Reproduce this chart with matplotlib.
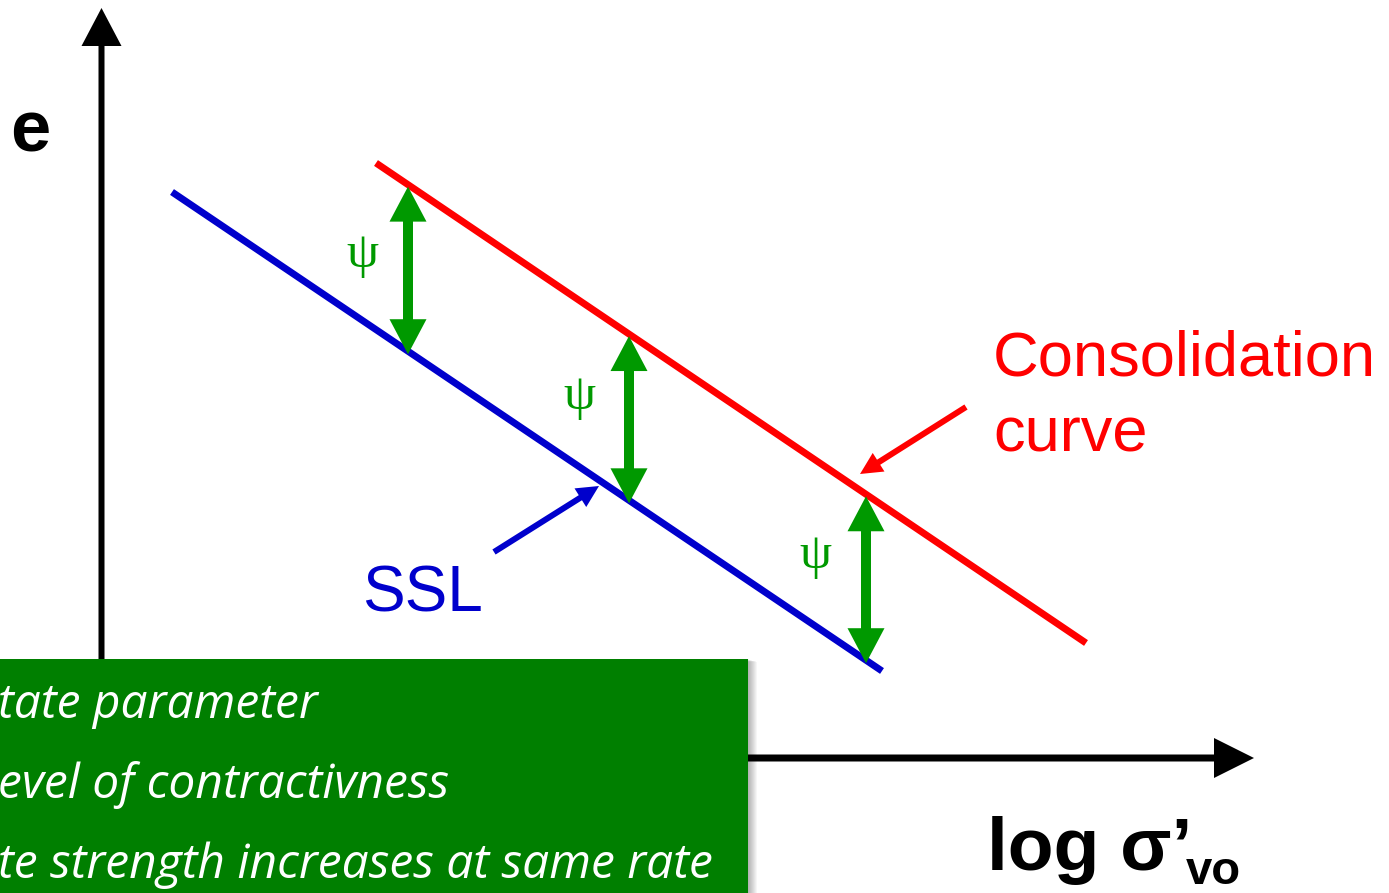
import numpy as np
import matplotlib.pyplot as plt
from matplotlib.patches import Rectangle, FancyArrow

# schematic e - log(sigma'vo) space, drawn in a canvas-like unit system (y grows downward)
W, H = 1389, 893

# steady state line (SSL) and consolidation curve, end points
ssl_x = [172, 882]
ssl_y = [192, 671]
cons_x = [376, 1086]
cons_y = [163, 643]

# where the state parameter psi is shown, and its labels
psi_x = [408, 629, 866]
psi_lab_x = [362, 579, 815]
psi_lab_y = [255, 397, 556]

# text in the green note box
note_lines = ["tate parameter", "evel of contractivness", "te strength increases at same rate"]

GREEN = '#009900'
BLUE = '#0000cc'
RED = '#ff0000'


def line_y(xs, ys, x):
    return np.interp(x, xs, ys)


def arrow(ax, x0, y0, x1, y1, color, width, hw, hl, z=4):
    ax.add_patch(FancyArrow(x0, y0, x1 - x0, y1 - y0, width=width, head_width=hw,
                            head_length=hl, length_includes_head=True, color=color,
                            lw=0, zorder=z))


fig = plt.figure(figsize=(W / 100, H / 100), dpi=100)
ax = fig.add_axes([0, 0, 1, 1])
ax.set_xlim(0, W)
ax.set_ylim(H, 0)
ax.axis('off')

# axes with arrow heads
arrow(ax, 101.5, 758, 101.5, 8, 'black', 6, 40, 38, z=2)
arrow(ax, 98, 758, 1254, 758, 'black', 7, 40, 40, z=2)

ax.text(10, 132, "e", fontsize=52, fontweight='bold', family='Liberation Sans',
        va='center', ha='left')
ax.text(987, 870, "log \u03c3\u2019", fontsize=54, fontweight='bold', family='Liberation Sans',
        va='baseline', ha='left')
ax.text(1186, 884, "vo", fontsize=34, fontweight='bold', family='Liberation Sans',
        va='baseline', ha='left')

# the two lines
ax.plot(ssl_x, ssl_y, color=BLUE, lw=5, solid_capstyle='butt', zorder=3)
ax.plot(cons_x, cons_y, color=RED, lw=5, solid_capstyle='butt', zorder=3)

# psi double arrows between the lines; each half starts inside the other head
hl = 35
for px, lx, ly in zip(psi_x, psi_lab_x, psi_lab_y):
    top = line_y(cons_x, cons_y, px) + 2
    bot = line_y(ssl_x, ssl_y, px) + 3
    arrow(ax, px, bot - hl + 5, px, top, GREEN, 10, 37, hl)
    arrow(ax, px, top + hl - 5, px, bot, GREEN, 10, 37, hl)
    ax.text(lx, ly, "\u03c8", fontsize=37, color=GREEN,
            family='Liberation Serif', ha='center', va='center')

# labels with pointer arrows
ax.text(362, 612, "SSL", fontsize=46, color=BLUE, family='Liberation Sans',
        va='baseline', ha='left')
arrow(ax, 494, 552, 599, 486, BLUE, 6, 22, 22)
ax.text(993, 375, "Consolidation", fontsize=45.5, color=RED, family='Liberation Sans',
        va='baseline', ha='left')
ax.text(993, 452, "curve", fontsize=45.5, color=RED, family='Liberation Sans',
        va='baseline', ha='left')
arrow(ax, 966, 407, 860, 474, RED, 6, 22, 22)

# green note box with a soft shadow on the right
for i in range(10):
    ax.add_patch(Rectangle((-20, 659 + i * 0.3), 748 + 20 + i, 260, color='black',
                           alpha=0.035, lw=0, zorder=5))
ax.add_patch(Rectangle((-20, 659), 768, 260, color='#007f00', lw=0, zorder=6))
for i, t in enumerate(note_lines):
    ax.text(-2, 718 + i * 80, t, fontsize=34.5, style='italic', color='white',
            family='Open Sans', va='baseline', ha='left', zorder=7)

fig.savefig('out.png', dpi=100)
